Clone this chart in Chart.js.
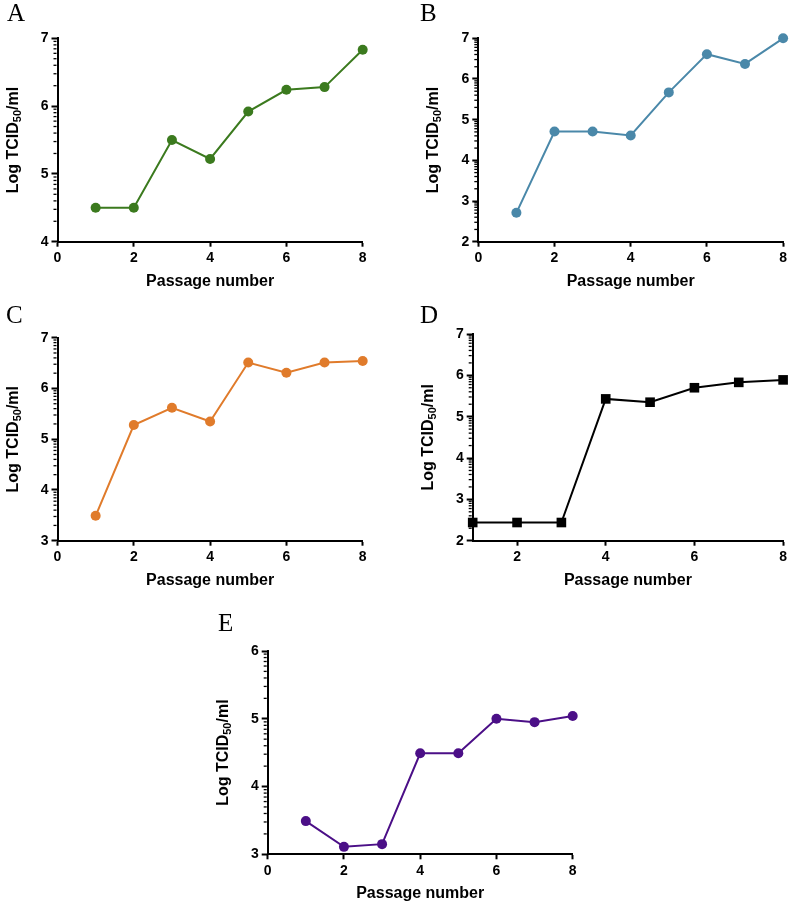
<!DOCTYPE html>
<html>
<head>
<meta charset="utf-8">
<script src="https://cdn.jsdelivr.net/npm/chart.js@4"></script>
<style>
  body { margin: 0; background: #fff; }
  #page { position: relative; width: 790px; height: 904px; overflow: hidden; }
  canvas { position: absolute; }
  .letter { position: absolute; font-family: "Liberation Serif", "Times New Roman", serif; font-size: 25px; line-height: 1; color: #000; }
</style>
</head>
<body>
<div id="page"></div>
<script>
// ============ DATA ============
const passages = [1, 2, 3, 4, 5, 6, 7, 8];
const titerA = [4.5, 4.5, 5.5, 5.22, 5.92, 6.24, 6.28, 6.83];
const titerB = [2.71, 4.71, 4.71, 4.61, 5.67, 6.61, 6.37, 7.0];
const titerC = [3.49, 5.28, 5.62, 5.35, 6.51, 6.31, 6.51, 6.54];
const titerD = [2.44, 2.44, 2.44, 5.43, 5.35, 5.70, 5.83, 5.89];
const titerE = [3.49, 3.11, 3.15, 4.49, 4.49, 5.0, 4.95, 5.04];
const xTicksFull = [0, 2, 4, 6, 8];
const xTicksD = [2, 4, 6, 8];
const yTitle = ["Log TCID", "50", "/ml"];
const xTitle = "Passage number";

// ============ PANELS ============
// box = canvas rect on page, area = wanted plot area (page coords)
const panels = [
    { letter: "A", values: titerA, color: "#3b7a1e", yMin: 4, yMax: 7, xMin: 0, xTicks: xTicksFull, style: "circle",
      box: [0, 0, 395, 290], area: [57.5, 38.3, 362.7, 241.7], letterPos: [7, 0] },
    { letter: "B", values: titerB, color: "#4a88a9", yMin: 2, yMax: 7, xMin: 0, xTicks: xTicksFull, style: "circle",
      box: [395, 0, 395, 290], area: [478.3, 38.3, 784.3, 241.7], letterPos: [420, 0] },
    { letter: "C", values: titerC, color: "#e07b2b", yMin: 3, yMax: 7, xMin: 0, xTicks: xTicksFull, style: "circle",
      box: [0, 295, 395, 294], area: [57.5, 337.7, 362.7, 540.7], letterPos: [6, 302] },
    { letter: "D", values: titerD, color: "#000000", yMin: 2, yMax: 7, xMin: 1, xTicks: xTicksD, style: "rect",
      box: [395, 295, 395, 294], area: [472.7, 334, 784.3, 540.7], letterPos: [420, 302] },
    { letter: "E", values: titerE, color: "#4b0f87", yMin: 3, yMax: 6, xMin: 0, xTicks: xTicksFull, style: "circle",
      box: [200, 600, 400, 302], area: [267.7, 651, 572.7, 854.3], letterPos: [218, 610] },
];

const FONT = "'Liberation Sans', Arial, sans-serif";

// log-style minor ticks + y title with subscript
const decorPlugin = {
    id: "decor",
    afterDraw(chart) {
        const ctx = chart.ctx;
        const y = chart.scales.y;
        const left = chart.chartArea.left;
        ctx.save();
        ctx.strokeStyle = "#000";
        ctx.lineWidth = 1.3;
        for (let n = y.min; n < y.max; n++) {
            for (let k = 2; k <= 9; k++) {
                const py = y.getPixelForValue(n + Math.log10(k));
                ctx.beginPath();
                ctx.moveTo(left - 1, py);
                ctx.lineTo(left - 4, py);
                ctx.stroke();
            }
        }
        // y title
        const cx = left - 46;
        const cy = (chart.chartArea.top + chart.chartArea.bottom) / 2;
        const big = "bold 16px " + FONT;
        const small = "bold 11px " + FONT;
        ctx.font = big;
        const w1 = ctx.measureText(yTitle[0]).width;
        const w3 = ctx.measureText(yTitle[2]).width;
        ctx.font = small;
        const w2 = ctx.measureText(yTitle[1]).width;
        const total = w1 + w2 + w3;
        ctx.translate(cx, cy);
        ctx.rotate(-Math.PI / 2);
        ctx.fillStyle = "#000";
        ctx.textBaseline = "alphabetic";
        ctx.textAlign = "left";
        let x0 = -total / 2;
        ctx.font = big;
        ctx.fillText(yTitle[0], x0, 6);
        ctx.font = small;
        ctx.fillText(yTitle[1], x0 + w1, 9);
        ctx.font = big;
        ctx.fillText(yTitle[2], x0 + w1 + w2, 6);
        ctx.restore();
    }
};

const page = document.getElementById("page");

panels.forEach(p => {
    const [bx, by, bw, bh] = p.box;
    const [L, T, R, B] = p.area;

    const canvas = document.createElement("canvas");
    canvas.width = bw;
    canvas.height = bh;
    canvas.style.left = bx + "px";
    canvas.style.top = by + "px";
    canvas.style.width = bw + "px";
    canvas.style.height = bh + "px";
    page.appendChild(canvas);

    const lbl = document.createElement("div");
    lbl.className = "letter";
    lbl.textContent = p.letter;
    lbl.style.left = p.letterPos[0] + "px";
    lbl.style.top = p.letterPos[1] + "px";
    page.appendChild(lbl);

    new Chart(canvas.getContext("2d"), {
        type: "line",
        data: {
            datasets: [{
                data: passages.map((x, i) => ({ x, y: p.values[i] })),
                borderColor: p.color,
                backgroundColor: p.color,
                borderWidth: 2,
                pointStyle: p.style,
                pointRadius: p.style === "rect" ? 6.8 : 5,
                pointBorderWidth: 0,
                pointBackgroundColor: p.color,
                tension: 0,
                clip: false,
            }]
        },
        options: {
            responsive: false,
            animation: false,
            devicePixelRatio: 1,
            layout: { padding: { left: 0, top: T - by, right: bx + bw - R, bottom: 0 } },
            plugins: { legend: { display: false }, tooltip: { enabled: false } },
            scales: {
                x: {
                    type: "linear",
                    min: p.xMin, max: 8,
                    afterBuildTicks: s => { s.ticks = p.xTicks.map(v => ({ value: v })); },
                    afterFit: s => { s.height = by + bh - B; },
                    border: { display: true, color: "#000", width: 2 },
                    grid: { drawOnChartArea: false, drawTicks: true, tickLength: 5, tickWidth: 2, tickColor: "#000" },
                    ticks: { color: "#000", font: { family: FONT, size: 14, weight: "bold" }, padding: 3, maxRotation: 0 },
                    title: { display: true, text: xTitle, color: "#000", padding: { top: 0, bottom: 0 },
                             font: { family: FONT, size: 16, weight: "bold", lineHeight: 1 } }
                },
                y: {
                    type: "linear",
                    min: p.yMin, max: p.yMax,
                    ticks: { stepSize: 1, color: "#000", font: { family: FONT, size: 14, weight: "bold" }, padding: 3 },
                    afterFit: s => { s.width = L - bx; },
                    border: { display: true, color: "#000", width: 2 },
                    grid: { drawOnChartArea: false, drawTicks: true, tickLength: 6, tickWidth: 2, tickColor: "#000" },
                }
            }
        },
        plugins: [decorPlugin]
    });
});
</script>
</body>
</html>
